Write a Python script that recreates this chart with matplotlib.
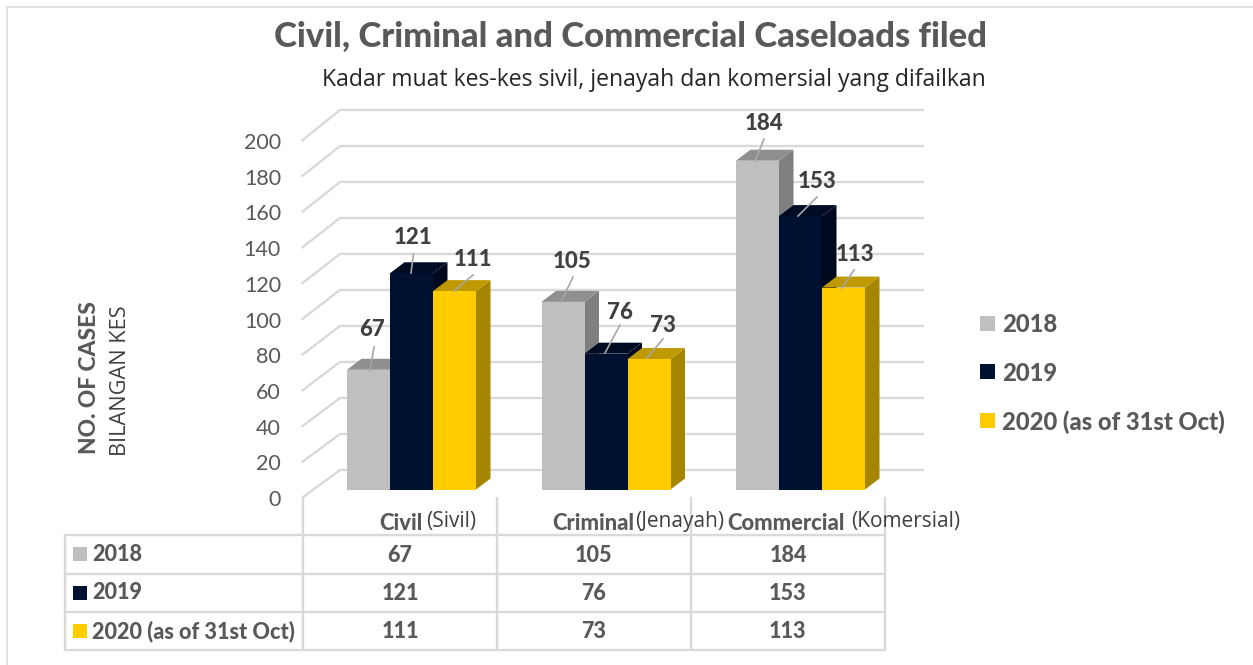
import matplotlib
matplotlib.use("Agg")
import matplotlib.pyplot as plt
from matplotlib.patches import Polygon, Rectangle

plt.rcParams['font.family'] = ['Lato', 'DejaVu Sans']

categories_en = ["Civil", "Criminal", "Commercial"]
categories_ms = ["(Sivil)", "(Jenayah)", "(Komersial)"]
series_names = ["2018", "2019", "2020 (as of 31st Oct)"]
values_2018 = [67, 105, 184]
values_2019 = [121, 76, 153]
values_2020 = [111, 73, 113]
y_ticks = [0, 20, 40, 60, 80, 100, 120, 140, 160, 180, 200]

W, H = 1253, 665
fronts = ["#BFBFBF", "#001030", "#FFCC00"]
tops = ["#8F8F8F", "#000C24", "#BF9900"]
sides = ["#7F7F7F", "#000820", "#A68500"]
grid_c = "#D9D9D9"
text_c = "#595959"
dark_c = "#404040"
BOLD = 900

# pixel scale of the value axis and the categories
PX_Y = 1.787
Y0 = 489.5
PX_X = 194.5
X0 = 411.5
BAR_W = 43 / PX_X
DEPTH_X = 14.5 / PX_X
DEPTH_Y = 11 / PX_Y


def px_x(p):
    return (p - X0) / PX_X


def px_y(p):
    return (Y0 - p) / PX_Y


fig = plt.figure(figsize=(W / 100, H / 100), dpi=100)
ax = fig.add_axes([0, 0, 1, 1])
ax.set_xlim(px_x(0), px_x(W))
ax.set_ylim(px_y(H), px_y(0))
ax.axis("off")


def txt(x, y, s, size, color=text_c, weight="normal", ha="center", va="center", **kw):
    return fig.text(x / W, 1 - y / H, s, fontsize=size, color=color, fontweight=weight,
                    ha=ha, va=va, **kw)


# picture frame, left and top only
ax.plot([px_x(6.5), px_x(6.5), px_x(W)], [px_y(H), px_y(6.5), px_y(6.5)],
        color="#DEDEDE", lw=1.3, solid_joinstyle="miter")

# 3d walls: grid lines run from the front edge to the back wall
for v in y_ticks:
    front_y = px_y(497.5) + v
    back_y = px_y(470) + v * 1.8 / PX_Y
    ax.plot([px_x(302.5), px_x(340), px_x(923)], [front_y, back_y, back_y],
            color=grid_c, lw=1.7, solid_joinstyle="miter", zorder=1)
    txt(281, 500 - v * 1.785, str(v), 15.5, ha="right")

# bars
all_values = [values_2018, values_2019, values_2020]
for s, vals in enumerate(all_values):
    for c, v in enumerate(vals):
        left = c + (s - 1.5) * BAR_W
        right = left + BAR_W
        z = 3 + c + s * 0.1
        ax.add_patch(Polygon([(right, 0), (right + DEPTH_X, DEPTH_Y), (right + DEPTH_X, v + DEPTH_Y), (right, v)],
                             fc=sides[s], ec="none", zorder=z))
        ax.add_patch(Polygon([(left, v), (left + DEPTH_X, v + DEPTH_Y), (right + DEPTH_X, v + DEPTH_Y), (right, v)],
                             fc=tops[s], ec="none", zorder=z))
        ax.bar(left, v, BAR_W, align="edge", color=fronts[s], zorder=z + 0.01)

# value labels with their leader lines, pixel offsets from bar top centre
label_pos = [
    [(372, 330), (572, 261), (764, 123.5)],
    [(413, 238), (620, 312), (817, 181.5)],
    [(473, 259), (663, 325), (855, 255)],
]
leader_end = [
    [(374, 347), (573, 277), (764, 139)],
    [(413.5, 254), (620, 325), (817, 197)],
    [(473, 275), (663, 339), (854, 270)],
]
leader_start = [
    [(370, 371), (561, 302), (755, 161)],
    [(411, 273), (605, 353), (798, 216)],
    [(454, 291), (647, 358), (842, 288)],
]
for s, vals in enumerate(all_values):
    for c, v in enumerate(vals):
        lx, ly = label_pos[s][c]
        txt(lx, ly, str(v), 16, color=dark_c, weight=BOLD, zorder=20)
        a = leader_start[s][c]
        b = leader_end[s][c]
        ax.plot([px_x(a[0]), px_x(b[0])], [px_y(a[1]), px_y(b[1])], color="#A6A6A6", lw=1.2, zorder=15)

# title
txt(630.5, 36.5, "Civil, Criminal and Commercial Caseloads filed", 24.9, weight=BOLD)
txt(654, 80, "Kadar muat kes-kes sivil, jenayah dan komersial yang difailkan", 16.55,
    color="#262626", family=["Open Sans", "DejaVu Sans"])

# axis titles
txt(89, 378, "NO. OF CASES", 16.4, weight=BOLD, rotation=90)
txt(120, 381, "BILANGAN KES", 15.7, rotation=90, color="#404040", family=["Open Sans", "DejaVu Sans"])

# legend
legend_y = [323, 371, 420]
for name, col, ly in zip(series_names, fronts, legend_y):
    ax.add_patch(Rectangle((px_x(980), px_y(ly + 7.5)), 15 / PX_X, 15 / PX_Y, fc=col, ec="none"))
    txt(1002, ly + 2, name, 17.1, weight=BOLD, ha="left")

# data table
row_y = [535, 573.5, 612, 650]
col_x = [65, 303, 497, 691, 885]
for yy in row_y:
    ax.plot([px_x(col_x[0]), px_x(col_x[-1])], [px_y(yy), px_y(yy)], color=grid_c, lw=1.7, zorder=2)
for i, xx in enumerate(col_x):
    top = 497.5 if i > 0 else 535
    ax.plot([px_x(xx), px_x(xx)], [px_y(top), px_y(650)], color=grid_c, lw=1.7, zorder=2)

for r, (name, col, vals) in enumerate(zip(series_names, fronts, all_values)):
    cy = (row_y[r] + row_y[r + 1]) / 2
    ax.add_patch(Rectangle((px_x(73), px_y(cy + 7)), 14 / PX_X, 14 / PX_Y, fc=col, ec="none"))
    txt(92, cy, name, 15.6, weight=BOLD, ha="left")
    for c, v in enumerate(vals):
        txt((col_x[c + 1] + col_x[c + 2]) / 2, cy + 1, str(v), 15.6, weight=BOLD)

# category labels, english in bold then malay
cat_en_x = [379, 552, 727]
cat_ms_x = [426, 635, 851]
for en, ms, ex, mx in zip(categories_en, categories_ms, cat_en_x, cat_ms_x):
    txt(ex, 523, en, 15.8, weight=BOLD, ha="left")
    txt(mx, 521, ms, 15, color="#404040", ha="left", family=["Open Sans", "DejaVu Sans"])

fig.savefig("out.png", dpi=100)
